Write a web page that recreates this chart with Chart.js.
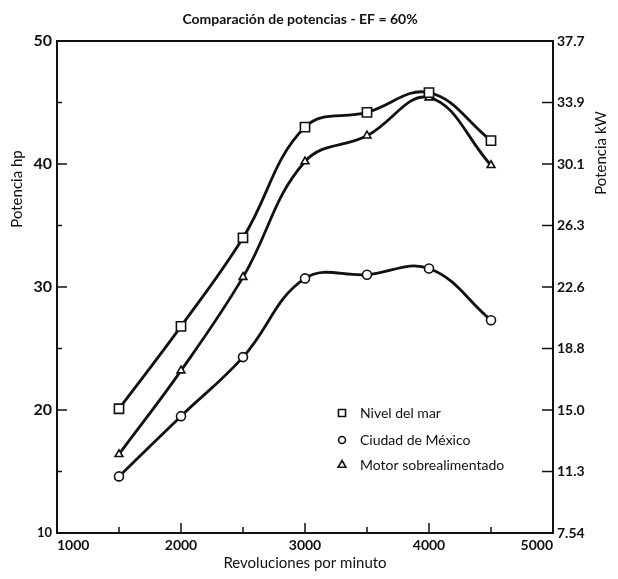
<!DOCTYPE html>
<html>
<head>
<meta charset="utf-8">
<script src="https://cdn.jsdelivr.net/npm/chart.js@4/dist/chart.umd.min.js"></script>
<style>
  html, body { margin: 0; padding: 0; background: #fff; }
  #wrap { width: 618px; height: 579px; position: relative; }
</style>
</head>
<body>
<div id="wrap"><canvas id="chart-potencia"></canvas></div>
<script>
const rpm = [1500, 2000, 2500, 3000, 3500, 4000, 4500];
const nivelDelMar = [20.1, 26.8, 34.0, 43.0, 44.2, 45.8, 41.9];
const ciudadMexico = [14.6, 19.5, 24.3, 30.7, 31.0, 31.5, 27.3];
const sobrealimentado = [16.4, 23.2, 30.8, 40.2, 42.3, 45.4, 39.9];
const kwLabels = ["7.54", "11.3", "15.0", "18.8", "22.6", "26.3", "30.1", "33.9", "37.7"];
const seriesNames = ["Nivel del mar", "Ciudad de México", "Motor sobrealimentado"];
const seriesStyles = ["rect", "circle", "triangle"];

const FONT = "Lato, 'DejaVu Sans', sans-serif";
const INK = "#111";

const toPoints = (vals) => vals.map((v, i) => ({ x: rpm[i], y: v }));

function makeDataset(label, vals, style, radius) {
  return {
    label: label,
    data: toPoints(vals),
    borderColor: INK,
    borderWidth: 2.8,
    pointStyle: style,
    pointRadius: radius,
    pointBorderWidth: 1.6,
    pointBorderColor: INK,
    pointBackgroundColor: "#fff",
    tension: 0.4,
    fill: false,
  };
}

function sideTitle(ctx, text, x, y) {
  ctx.save();
  ctx.translate(x, y);
  ctx.rotate(-Math.PI / 2);
  ctx.font = "15px " + FONT;
  ctx.textAlign = "center";
  ctx.textBaseline = "middle";
  ctx.fillText(text, 0, 0);
  ctx.restore();
}

// frame, inward tick marks, titles and legend
const decor = {
  id: "decor",
  afterDraw(chart) {
    const ctx = chart.ctx;
    const a = chart.chartArea;
    const sx = chart.scales.x;
    const sy = chart.scales.y;
    const sy2 = chart.scales.y2;
    ctx.save();
    ctx.strokeStyle = INK;
    ctx.lineWidth = 2;
    ctx.strokeRect(a.left, a.top, a.right - a.left, a.bottom - a.top);

    ctx.lineWidth = 1.5;
    ctx.beginPath();
    sx.ticks.forEach((t) => {
      if (t.value <= sx.min || t.value >= sx.max) return;
      const px = sx.getPixelForValue(t.value);
      const len = t.value % 1000 === 0 ? 10 : 6;
      ctx.moveTo(px, a.bottom);
      ctx.lineTo(px, a.bottom - len);
    });
    sy.ticks.forEach((t) => {
      if (t.value <= sy.min || t.value >= sy.max) return;
      const py = sy.getPixelForValue(t.value);
      const len = t.value % 10 === 0 ? 10 : 5;
      ctx.moveTo(a.left, py);
      ctx.lineTo(a.left + len, py);
    });
    sy2.ticks.forEach((t) => {
      if (t.value <= sy2.min || t.value >= sy2.max) return;
      const py = sy2.getPixelForValue(t.value);
      ctx.moveTo(a.right, py);
      ctx.lineTo(a.right - 11, py);
    });
    ctx.stroke();

    // title
    ctx.fillStyle = INK;
    ctx.font = "bold 14px " + FONT;
    ctx.textAlign = "center";
    ctx.textBaseline = "middle";
    ctx.fillText("Comparación de potencias - EF = 60%", 300, 19);

    // axis titles, both read bottom to top
    sideTitle(ctx, "Potencia hp", 17, 189);
    sideTitle(ctx, "Potencia kW", 601, 153);

    // legend
    ctx.font = "14px " + FONT;
    ctx.textAlign = "left";
    ctx.textBaseline = "middle";
    const legendY = [413, 440, 465];
    const legendR = [5, 3.5, 4.5];
    seriesNames.forEach((name, i) => {
      ctx.strokeStyle = INK;
      ctx.fillStyle = "#fff";
      ctx.lineWidth = 1.6;
      Chart.helpers.drawPoint(ctx, { pointStyle: seriesStyles[i], radius: legendR[i], borderWidth: 1.6, rotation: 0 }, 342, legendY[i]);
      ctx.fillStyle = INK;
      ctx.fillText(name, 360, legendY[i]);
    });
    ctx.restore();
  },
};

const ctxPot = document.getElementById("chart-potencia").getContext("2d");

const chartPot = new Chart(ctxPot, {
  type: "line",
  data: {
    datasets: [
      makeDataset(seriesNames[0], nivelDelMar, "rect", 6.5),
      makeDataset(seriesNames[1], ciudadMexico, "circle", 4.5),
      makeDataset(seriesNames[2], sobrealimentado, "triangle", 4.5),
    ],
  },
  options: {
    responsive: true,
    maintainAspectRatio: false,
    animation: false,
    layout: {
      padding: { top: 41, left: 0, right: 0, bottom: 0 },
    },
    plugins: {
      legend: { display: false },
      tooltip: { enabled: false },
    },
    scales: {
      x: {
        type: "linear",
        min: 1000,
        max: 5000,
        grid: { display: false, drawTicks: false },
        border: { display: false },
        ticks: {
          stepSize: 500,
          autoSkip: false,
          maxRotation: 0,
          align: "inner",
          padding: 4,
          color: INK,
          font: { family: FONT, size: 14, weight: "bold" },
          callback: (v) => (v % 1000 === 0 ? String(v) : ""),
        },
        title: {
          display: true,
          text: "Revoluciones por minuto",
          color: INK,
          font: { family: FONT, size: 15 },
          padding: { top: 0, bottom: 7 },
        },
        afterFit: (s) => { s.height = 46; },
      },
      y: {
        position: "left",
        min: 10,
        max: 50,
        grid: { display: false, drawTicks: false },
        border: { display: false },
        ticks: {
          stepSize: 5,
          autoSkip: false,
          padding: 5,
          color: INK,
          font: (c) => ({ family: FONT, size: c.tick && c.tick.value === 10 ? 13 : 16, weight: "bold" }),
          callback: (v) => (v % 10 === 0 ? String(v) : ""),
        },
        title: { display: false },
        afterFit: (s) => { s.width = 57; },
      },
      y2: {
        position: "right",
        min: 10,
        max: 50,
        grid: { display: false, drawTicks: false },
        border: { display: false },
        ticks: {
          stepSize: 5,
          autoSkip: false,
          padding: 4,
          color: INK,
          font: { family: FONT, size: 14, weight: "bold" },
          callback: (v) => kwLabels[Math.round((v - 10) / 5)],
        },
        title: { display: false },
        afterFit: (s) => { s.width = 65; },
      },
    },
  },
  plugins: [decor],
});
</script>
</body>
</html>
